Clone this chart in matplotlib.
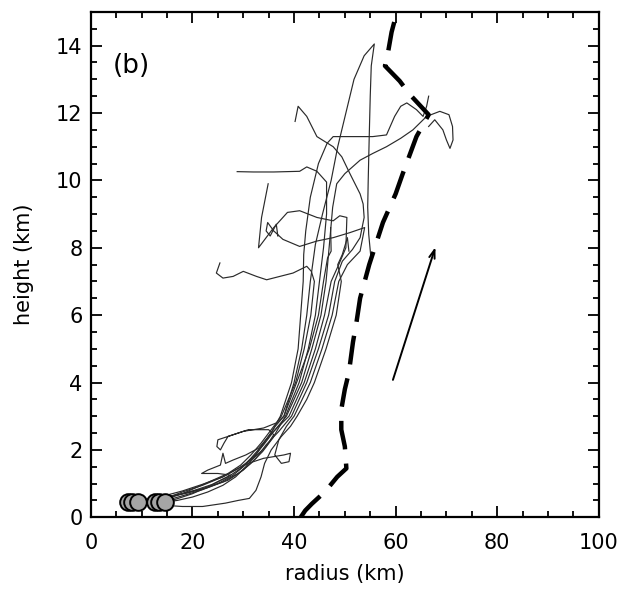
import matplotlib
matplotlib.use("Agg")
import matplotlib.pyplot as plt
from matplotlib.ticker import MultipleLocator

# parcel trajectories (radius km, height km)
t1_x = [14.6, 17, 20, 23, 26, 28.5, 30.5, 32.5, 34.5, 36.3, 38, 40, 41.5, 42.5, 43.2, 44.2,
        45.6, 47.3, 48.6, 50.2, 51.8, 53.8, 55.8, 55.2, 55.0, 54.8, 54.6, 54.5, 54.7, 55.2]
t1_y = [0.45, 0.5, 0.6, 0.75, 0.95, 1.2, 1.5, 1.85, 2.3, 2.7, 3.0, 4.0, 5.0, 6.0, 7.0, 8.1,
        9.0, 10.0, 11.0, 12.0, 13.0, 13.7, 14.05, 13.4, 12.5, 11.3, 10.0, 9.2, 8.4, 7.6]

t2_x = [13.4, 16, 19, 22, 25, 28, 30, 32, 34, 36, 38.5, 41.5, 43.5, 45.3, 46.3, 46.9, 47.6,
        48.4, 50, 53, 55.5, 58.2, 61, 63.4, 66.1, 68.7, 70.5, 71.2, 71.3, 70.7, 70, 69.3, 67.7, 66.5]
t2_y = [0.45, 0.55, 0.68, 0.82, 1.0, 1.25, 1.5, 1.8, 2.15, 2.55, 3.0, 4.0, 5.0, 6.0, 7.0, 8.0, 9.2,
        9.9, 10.2, 10.6, 10.8, 11.0, 11.25, 11.5, 11.9, 12.05, 11.95, 11.6, 11.2, 10.95, 11.2,
        11.5, 11.8, 11.6]

t3_x = [9.2, 12, 16, 20, 24, 27, 29.5, 31.5, 33.5, 35.5, 37.3, 39.5, 40.8, 41.3, 41.8, 41.9, 42.3,
        43.2, 44.8, 46.5, 47.7, 50, 53, 55.5, 58.2, 59.8, 61, 62.2, 64.1, 65.4, 66.1, 66.5]
t3_y = [0.45, 0.5, 0.62, 0.78, 0.98, 1.2, 1.45, 1.75, 2.1, 2.5, 3.0, 4.0, 5.0, 6.0, 7.0, 7.8, 8.5,
        9.5, 10.5, 11.1, 11.3, 11.3, 11.3, 11.3, 11.35, 11.9, 12.2, 12.3, 12.1, 11.9, 12.2, 12.5]

t4_x = [7.3, 10, 14, 18, 22, 26, 29, 31.5, 33.8, 35.8, 38.3, 41, 42.8, 44.2, 45, 45.8, 46.4, 46.4,
        44.5, 42.5, 41.1, 36, 32, 28.8]
t4_y = [0.45, 0.5, 0.58, 0.7, 0.85, 1.05, 1.3, 1.6, 1.95, 2.35, 3.0, 4.0, 5.0, 6.0, 7.0, 8.0, 9.0,
        9.95, 10.27, 10.4, 10.27, 10.25, 10.25, 10.26]

t5_x = [8.0, 11, 15, 19, 23, 27, 30, 32.5, 34.5, 37, 39.5, 42.5, 44.8, 46.8, 48, 49.5, 51.5, 53,
        53.8, 53.6, 53, 51, 49.4, 47.7, 44.5, 42.5, 40.8, 40.2]
t5_y = [0.45, 0.52, 0.6, 0.72, 0.88, 1.1, 1.4, 1.75, 2.15, 2.55, 3.0, 4.0, 5.0, 6.0, 7.0, 7.6,
        7.95, 8.3, 8.9, 9.3, 9.6, 10.2, 10.7, 11.0, 11.3, 11.9, 12.2, 11.75]

t6_x = [12.6, 15, 18, 21, 24, 27, 29.5, 31.5, 33.5, 35.5, 37.5, 40.3, 42, 43.3, 44, 43.4, 42.5,
        39.8, 37.2, 34.6, 32.6, 30, 28, 26, 24.7, 25.4]
t6_y = [0.45, 0.55, 0.7, 0.9, 1.1, 1.3, 1.55, 1.85, 2.2, 2.6, 3.0, 4.0, 5.0, 6.0, 7.0, 7.3, 7.45,
        7.25, 7.15, 7.05, 7.15, 7.3, 7.15, 7.1, 7.25, 7.55]

t7_x = [14.6, 17, 20, 23, 25.5, 27.5, 25, 21.8, 23, 25.5, 26, 26.5, 28, 30.5, 33, 35, 37, 39, 42,
        44.2, 46, 47.3, 48.8, 50.2, 50.4, 49, 47.7, 44.5, 41.1, 38.7, 36, 33.0, 33.6, 34.9]
t7_y = [0.45, 0.55, 0.7, 0.9, 1.1, 1.25, 1.3, 1.3, 1.4, 1.55, 1.9, 1.6, 1.7, 1.85, 2.05, 2.4, 2.7,
        3.0, 4.0, 5.0, 6.0, 7.0, 7.5, 8.0, 8.9, 8.95, 8.8, 8.9, 9.1, 9.05, 8.6, 8.0, 8.9, 9.9]

t8_x = [7.3, 10, 14, 18, 22, 26, 29, 31, 34, 36, 38, 39.3, 39, 37.5, 36.2, 37, 38.5, 40, 43.2,
        45.5, 47.5, 48.8, 50.5, 53, 53.9, 51, 47.7, 44.5, 41.1, 37.8, 36, 34.8, 34.5, 35.3, 36.5, 36.8]
t8_y = [0.45, 0.52, 0.62, 0.78, 0.98, 1.2, 1.45, 1.6, 1.75, 1.8, 1.85, 1.9, 1.65, 1.6, 1.85, 2.3,
        2.7, 3.0, 4.0, 5.0, 6.0, 7.0, 7.5, 7.9, 8.6, 8.45, 8.3, 8.2, 8.04, 8.25, 8.5, 8.75, 8.5, 8.35,
        8.7, 8.35]

t9_x = [9.2, 12, 15, 18, 22, 26.5, 29, 31.2, 32.5, 33.5, 34.2, 35.5, 37.5, 39.3, 40.6, 42.5, 44,
        46.3, 48.3, 49.3, 48.6, 49.5, 50.5, 50.8]
t9_y = [0.45, 0.4, 0.35, 0.32, 0.32, 0.42, 0.5, 0.56, 0.8, 1.2, 1.6, 2.0, 2.4, 2.7, 3.0, 3.5, 4.0,
        5.0, 6.0, 7.0, 7.5, 7.8, 8.3, 7.9]

t10_x = [12.6, 15, 18, 22, 26, 29, 32, 34.5, 36, 35, 31, 28, 26, 25, 24.8, 25.5, 26.2, 27, 30, 34,
         36.5, 38, 40.5, 43, 44.8, 45.8, 46.6, 47.3, 47.2]
t10_y = [0.45, 0.58, 0.75, 0.95, 1.2, 1.45, 1.75, 2.1, 2.45, 2.6, 2.6, 2.45, 2.35, 2.3, 2.1, 2.0,
         2.2, 2.4, 2.55, 2.65, 2.8, 3.0, 4.0, 5.0, 6.0, 7.0, 7.7, 7.9, 8.6]

trajectories = [(t1_x, t1_y), (t2_x, t2_y), (t3_x, t3_y), (t4_x, t4_y), (t5_x, t5_y),
                (t6_x, t6_y), (t7_x, t7_y), (t8_x, t8_y), (t9_x, t9_y), (t10_x, t10_y)]

# release points
start_x = [7.3, 8.0, 9.2, 12.6, 13.4, 14.6]
start_y = [0.45, 0.45, 0.45, 0.45, 0.45, 0.45]

# eyewall boundary
wall_x = [41.3, 42.2, 43.5, 46.1, 48.5, 50.3, 50.0, 49.3, 49.3, 50.0, 50.8, 51.6, 52.3, 53.0, 54.8,
          57.5, 60.0, 61.4, 64.1, 66.5, 62.8, 60.8, 57.9, 58.5, 59.2, 60.6]
wall_y = [0.0, 0.2, 0.4, 0.76, 1.2, 1.45, 2.1, 2.6, 3.2, 3.8, 4.3, 5.2, 5.8, 6.5, 7.5, 8.75, 9.6,
          10.2, 11.3, 11.95, 12.55, 12.95, 13.4, 13.8, 14.4, 15.2]

# slope arrow
arrow_start = (59.3, 4.0)
arrow_end = (68.0, 8.1)

fig = plt.figure(figsize=(6.27, 5.98), dpi=100)
ax = fig.add_axes([0.145, 0.135, 0.81, 0.845])

for tx, ty in trajectories:
    ax.plot(tx, ty, color="#2a2a2a", lw=0.85, zorder=2)

ax.plot(start_x, start_y, "o", ms=12, mfc="#a5a5a5", mec="k", mew=1.4, zorder=4)

ax.plot(wall_x, wall_y, color="k", lw=3.2, dashes=(6.5, 3.2), zorder=3)

ax.annotate("", xy=arrow_end, xytext=arrow_start,
            arrowprops=dict(arrowstyle="->,head_length=0.6,head_width=0.2", lw=1.4, color="k"))

ax.text(4.3, 13.4, "(b)", fontsize=19, va="center", ha="left")

ax.set_xlim(0, 100)
ax.set_ylim(0, 15)
ax.xaxis.set_major_locator(MultipleLocator(20))
ax.xaxis.set_minor_locator(MultipleLocator(5))
ax.yaxis.set_major_locator(MultipleLocator(2))
ax.yaxis.set_minor_locator(MultipleLocator(0.5))
ax.tick_params(which="both", direction="in", top=True, right=True, width=1.3, labelsize=15)
ax.tick_params(which="major", length=8)
ax.tick_params(which="minor", length=4)
ax.tick_params(axis="x", pad=11)
ax.tick_params(axis="y", pad=6)
for sp in ax.spines.values():
    sp.set_linewidth(1.6)

ax.set_xlabel("radius (km)", fontsize=15, labelpad=8)
ax.set_ylabel("height (km)", fontsize=15, labelpad=16)

fig.savefig("out.png", dpi=100)
